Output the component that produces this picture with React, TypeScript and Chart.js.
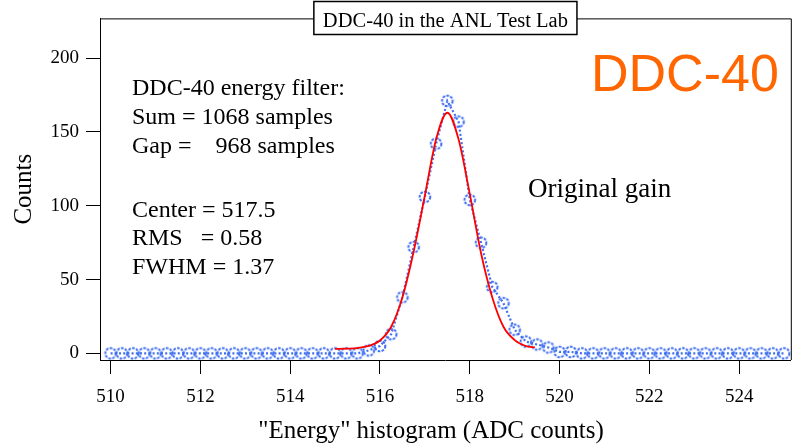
import React, { useEffect, useRef } from "react";
import { Chart, registerables } from "chart.js";

Chart.register(...registerables);

// ---- data ----
const binCenters = [
  510, 510.25, 510.5, 510.75, 511, 511.25, 511.5, 511.75, 512, 512.25, 512.5, 512.75,
  513, 513.25, 513.5, 513.75, 514, 514.25, 514.5, 514.75, 515, 515.25, 515.5, 515.75,
  516, 516.25, 516.5, 516.75, 517, 517.25, 517.5, 517.75, 518, 518.25, 518.5, 518.75,
  519, 519.25, 519.5, 519.75, 520, 520.25, 520.5, 520.75, 521, 521.25, 521.5, 521.75,
  522, 522.25, 522.5, 522.75, 523, 523.25, 523.5, 523.75, 524, 524.25, 524.5, 524.75, 525,
];
const counts = [
  0, 0, 0, 0, 0, 0, 0, 0, 0, 0, 0, 0,
  0, 0, 0, 0, 0, 0, 0, 0, 0, 0, 0, 2,
  5, 13, 38, 72, 106, 142, 171, 157, 104, 75, 45, 34,
  16, 8, 6, 4, 1, 1, 0, 0, 0, 0, 0, 0,
  0, 0, 0, 0, 0, 0, 0, 0, 0, 0, 0, 0, 0,
];
const fitX = [
  515, 515.25, 515.5, 515.75, 516, 516.25, 516.5, 516.75, 517, 517.25,
  517.5, 517.75, 518, 518.25, 518.5, 518.75, 519, 519.25, 519.45,
];
const fitY = [
  3, 3.2, 3.6, 5, 8.7, 18, 38, 69, 107, 145,
  163, 145, 108, 68, 38, 18, 9, 5, 4,
];
const xTicks = [510, 512, 514, 516, 518, 520, 522, 524];
const yTicks = [0, 50, 100, 150, 200];

const chartTitle = "DDC-40 in the ANL Test Lab";
const badgeText = "DDC-40";
const infoLines = [
  "DDC-40 energy filter:",
  "Sum = 1068 samples",
  "Gap =    968 samples",
  "Center = 517.5",
  "RMS   = 0.58",
  "FWHM = 1.37",
];
const gainLabel = "Original gain";
const xTitle = '"Energy" histogram (ADC counts)';
const yTitle = "Counts";

const SERIF = '"Liberation Serif", "Times New Roman", serif';
const SANS = '"Liberation Sans", Arial, sans-serif';
const BLUE = "#3f6ff0";

function makeMarker(color: string) {
  const c = document.createElement("canvas");
  c.width = 16;
  c.height = 16;
  const g = c.getContext("2d")!;
  g.strokeStyle = color;
  g.lineWidth = 2;
  g.setLineDash([2.6, 1.3]);
  g.beginPath();
  g.arc(8, 8, 5.3, 0, Math.PI * 2);
  g.stroke();
  return c;
}

const decorPlugin = {
  id: "decor",
  afterDraw(chart: any) {
    const { ctx, chartArea } = chart;
    const { left, right, top, bottom } = chartArea;
    ctx.save();
    // frame (top and right)
    ctx.strokeStyle = "#000";
    ctx.lineWidth = 1;
    ctx.beginPath();
    ctx.moveTo(left, top + 0.5);
    ctx.lineTo(right + 0.5, top + 0.5);
    ctx.lineTo(right + 0.5, bottom);
    ctx.stroke();

    // title box
    const cx = (left + right) / 2;
    ctx.font = `20.5px ${SERIF}`;
    const tw = ctx.measureText(chartTitle).width;
    const bx = cx - tw / 2 - 9;
    const bw = tw + 18;
    ctx.fillStyle = "#fff";
    ctx.fillRect(bx, 1, bw, 34);
    ctx.lineWidth = 1.5;
    ctx.strokeRect(bx, 1.5, bw, 33);
    ctx.fillStyle = "#000";
    ctx.textAlign = "center";
    ctx.textBaseline = "alphabetic";
    ctx.fillText(chartTitle, cx, 27);

    // orange badge
    ctx.font = `52px ${SANS}`;
    ctx.fillStyle = "#ff6600";
    ctx.textAlign = "left";
    ctx.fillText(badgeText, 591, 91);

    // info block
    ctx.fillStyle = "#000";
    ctx.font = `24px ${SERIF}`;
    const baselines = [95, 124, 152.5, 216.5, 245, 274];
    infoLines.forEach((t, i) => ctx.fillText(t, left + 32, baselines[i]));

    // gain label
    ctx.font = `27px ${SERIF}`;
    ctx.fillText(gainLabel, 528, 197);

    // x axis title
    ctx.font = `25px ${SERIF}`;
    ctx.textAlign = "center";
    ctx.textBaseline = "middle";
    ctx.fillText(xTitle, 431, 431);
    ctx.restore();
  },
};

export default function App() {
  const ref = useRef<HTMLCanvasElement>(null);

  useEffect(() => {
    const canvas = ref.current!;
    const marker = makeMarker(BLUE);
    const chart = new Chart(canvas, {
      type: "line",
      data: {
        datasets: [
          {
            label: "fit",
            data: fitX.map((x, i) => ({ x, y: fitY[i] })),
            borderColor: "#ff0000",
            borderWidth: 1.8,
            pointRadius: 0,
            tension: 0.4,
            cubicInterpolationMode: "monotone",
            fill: false,
            order: 0,
          },
          {
            label: "data",
            data: binCenters.map((x, i) => ({ x, y: counts[i] })),
            borderColor: BLUE,
            borderWidth: 2.2,
            borderDash: [2, 2.2],
            pointStyle: marker as any,
            pointRadius: 6,
            fill: false,
            order: 1,
          },
        ],
      },
      options: {
        responsive: false,
        animation: false,
        devicePixelRatio: 1,
        layout: { padding: { top: 16, right: 2, left: 0, bottom: 0 } },
        plugins: {
          legend: { display: false },
          tooltip: { enabled: false },
          title: { display: false },
        },
        scales: {
          x: {
            type: "linear",
            min: 509.764,
            max: 525.15,
            afterBuildTicks: (s: any) => {
              s.ticks = xTicks.map((v) => ({ value: v }));
            },
            afterFit: (s: any) => {
              s.height = 84;
            },
            grid: {
              drawOnChartArea: false,
              drawTicks: true,
              tickLength: 14,
              color: "#000",
              lineWidth: 1,
            },
            border: { display: true, color: "#000", width: 1 },
            ticks: {
              color: "#000",
              font: { family: SERIF, size: 19 },
              padding: 12,
              maxRotation: 0,
              autoSkip: false,
              callback: (v: any) => String(v),
            },
          },
          y: {
            type: "linear",
            min: -4.5,
            max: 226.9,
            afterBuildTicks: (s: any) => {
              s.ticks = yTicks.map((v) => ({ value: v }));
            },
            afterFit: (s: any) => {
              s.width = 100;
            },
            grid: {
              drawOnChartArea: false,
              drawTicks: true,
              tickLength: 14,
              color: "#000",
              lineWidth: 1,
            },
            border: { display: true, color: "#000", width: 1 },
            ticks: {
              color: "#000",
              font: { family: SERIF, size: 19 },
              padding: 7,
              autoSkip: false,
              callback: (v: any) => String(v),
            },
            title: {
              display: true,
              text: yTitle,
              color: "#000",
              font: { family: SERIF, size: 25 },
              padding: { top: 9, bottom: 0 },
            },
          },
        },
      },
      plugins: [decorPlugin],
    });
    return () => chart.destroy();
  }, []);

  return (
    <div style={{ position: "absolute", left: 0, top: 0, width: 799, height: 444, background: "#fff" }}>
      <canvas ref={ref} width={799} height={444} />
    </div>
  );
}
